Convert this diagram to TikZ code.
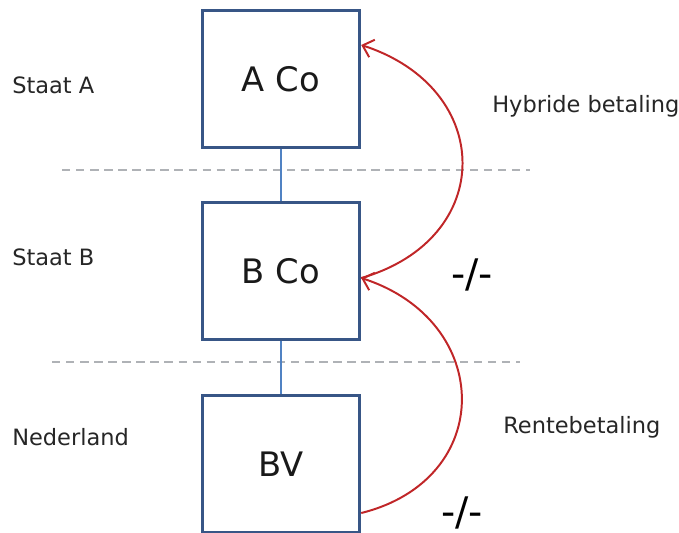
\documentclass[tikz,border=0pt]{standalone}
\usepackage{fontspec}
\setmainfont{DejaVu Sans}
\usetikzlibrary{arrows.meta}
\usetikzlibrary{positioning}

\definecolor{boxblue}{RGB}{56,86,134}
\definecolor{linkblue}{RGB}{80,130,195}
\definecolor{payred}{RGB}{192,38,40}
\definecolor{divgray}{RGB}{175,178,182}

\begin{document}
\begin{tikzpicture}[x=0.025cm,y=-0.025cm,
  box/.style={draw=boxblue,line width=2.3pt,minimum width=3.93cm,minimum height=3.42cm,
    font=\fontsize{24}{28}\selectfont,text=black!90},
  link/.style={draw=linkblue,line width=0.8pt},
  divider/.style={draw=divgray,line width=0.8pt,dash pattern=on 6pt off 4pt},
  pay/.style={draw=payred,line width=1.4pt,-{Straight Barb[length=7pt,width=13pt,line width=1.4pt]}},
  lbl/.style={font=\fontsize{16}{19}\selectfont,text=black!85,inner sep=0pt},
  slash/.style={font=\fontsize{28}{32}\selectfont,text=black,inner sep=0pt}]
\useasboundingbox (0,0) rectangle (679,533);

% landen
\node[lbl,anchor=west] (staatA) at (12,85) {Staat A};
\node[lbl,anchor=west] (staatB) at (12,257) {Staat B};
\node[lbl,anchor=west] (nl) at (12,437) {Nederland};

\draw[divider] (62,170) -- (530,170);
\draw[divider] (52,362) -- (520,362);

% vennootschappen
\node[box] (A) at (281,79) {A Co};
\node[box] (B) at (281,271) {B Co};
\node[box] (BV) at (281,464) {BV};
\draw[link] (A) -- (B);
\draw[link] (B) -- (BV);

% betalingen
\coordinate (a in) at ([yshift=0.85cm]A.east);
\coordinate (b in) at ([yshift=-0.175cm]B.east);
\coordinate (bv out) at ([yshift=-1.225cm]BV.east);
\draw[pay] (b in) to[out=16,in=-18,looseness=1.55] (a in);
\draw[pay] (bv out) to[out=14,in=-18,looseness=1.52] (b in);

\node[lbl,anchor=west] (hyb) at (492,106) {Hybride betaling};
\node[lbl,anchor=west] (rente) at (503,427) {Rentebetaling};
\node[slash] (aftrekB) at (472,275) {-/-};
\node[slash] (aftrekBV) at (462,513) {-/-};

\end{tikzpicture}
\end{document}
